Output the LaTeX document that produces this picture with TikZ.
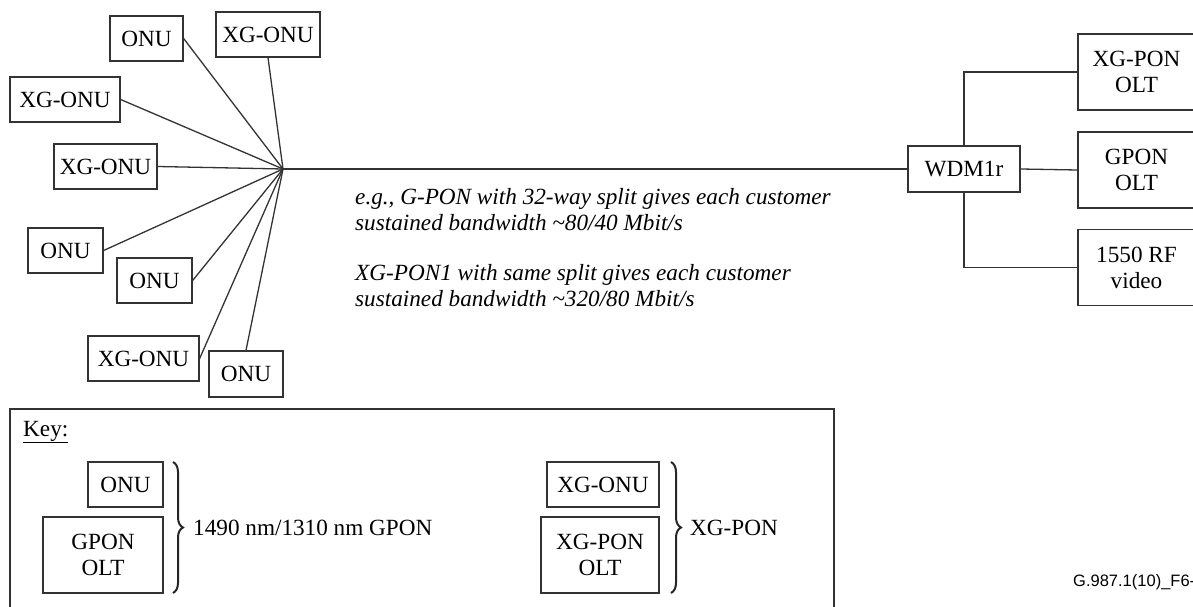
\documentclass[tikz,border=0pt]{standalone}
\usepackage{fontspec}
\setmainfont{Liberation Serif}
\newfontfamily\footfont{Liberation Sans}
\usetikzlibrary{decorations.pathreplacing}
\begin{document}
\begin{tikzpicture}[x=1pt,y=-1pt,
  every node/.style={font=\fontsize{23.2}{26}\selectfont},
  box/.style={draw=black!80, line width=1.3pt, inner sep=0pt, align=center},
  wire/.style={draw=black!80, line width=1.3pt},
  brc/.style={draw=black!85, line width=2pt, decorate, decoration={brace, amplitude=10pt}}]
\useasboundingbox (0,0) rectangle (1193,607);
% ONU / XG-ONU nodes
\node[box, minimum width=73pt, minimum height=45pt] (onuA) at (146.5,38.5) {ONU};
\node[box, minimum width=104pt, minimum height=45pt] (xgA) at (268,34.5) {XG-ONU};
\node[box, minimum width=110pt, minimum height=45pt] (xgB) at (65,99.5) {XG-ONU};
\node[box, minimum width=103pt, minimum height=45pt] (xgC) at (105.5,166.5) {XG-ONU};
\node[box, minimum width=75pt, minimum height=45pt] (onuB) at (65.5,250.5) {ONU};
\node[box, minimum width=75pt, minimum height=45pt] (onuC) at (154.5,280.5) {ONU};
\node[box, minimum width=111pt, minimum height=45pt] (xgD) at (143.5,358.5) {XG-ONU};
\node[box, minimum width=74pt, minimum height=46pt] (onuD) at (246,374) {ONU};
\coordinate (hub) at (283,169);
\draw[wire] (onuA.east) -- (hub);
\draw[wire] (xgA.south) -- (hub);
\draw[wire] (xgB.east) -- (hub);
\draw[wire] (xgC.east) -- (hub);
\draw[wire] (onuB.east) -- (hub);
\draw[wire] (onuC.east) -- (hub);
\draw[wire] (xgD.east) -- (hub);
\draw[wire] (onuD.north) -- (hub);
% WDM and OLTs
\node[box, minimum width=112pt, minimum height=46pt] (wdm) at (964,169) {WDM1r};
\node[box, minimum width=117pt, minimum height=76pt] (xgolt) at (1136.5,72) {XG-PON\\OLT};
\node[box, minimum width=117pt, minimum height=76pt] (golt) at (1136.5,170) {GPON\\OLT};
\node[box, minimum width=117pt, minimum height=76pt] (rf) at (1136.5,267.5) {1550 RF\\video};
\draw[wire] (hub) -- (wdm.west);
\draw[wire] (wdm.north) |- (xgolt.west);
\draw[wire] (wdm.east) -- (golt.west);
\draw[wire] (wdm.south) |- (rf.west);
% annotation text
\node[anchor=west, align=left, inner sep=0pt, font=\fontsize{23.2}{26}\selectfont\itshape] (t1) at (355,210)
  {e.g., G-PON with 32-way split gives each customer\\sustained bandwidth \textasciitilde80/40 Mbit/s};
\node[anchor=west, align=left, inner sep=0pt, font=\fontsize{23.2}{26}\selectfont\itshape] (t2) at (355,286)
  {XG-PON1 with same split gives each customer\\sustained bandwidth \textasciitilde320/80 Mbit/s};
% Key
\draw[draw=black!80, line width=1.3pt] (10,409) rectangle (834,640);
\node[anchor=base west, inner sep=0pt] (key) at (23,436) {\underline{Key:}};
\node[box, minimum width=75pt, minimum height=45pt] (konu) at (125.5,484.5) {ONU};
\node[box, minimum width=120pt, minimum height=76pt] (kgolt) at (103,555) {GPON\\OLT};
\draw[brc] (173,462) -- (173,593);
\node[anchor=west, inner sep=0pt] (kt1) at (193,528) {1490 nm/1310 nm GPON};
\node[box, minimum width=112pt, minimum height=45pt] (kxg) at (603,484.5) {XG-ONU};
\node[box, minimum width=118pt, minimum height=76pt] (kxgolt) at (600,555) {XG-PON\\OLT};
\draw[brc] (671,462) -- (671,593);
\node[anchor=west, inner sep=0pt] (kt2) at (690,528) {XG-PON};
% footer
\node[anchor=west, inner sep=0pt, font=\footfont\fontsize{16.5}{18}\selectfont] (foot) at (1073,582) {G.987.1(10)\_F6-};
\end{tikzpicture}
\end{document}
